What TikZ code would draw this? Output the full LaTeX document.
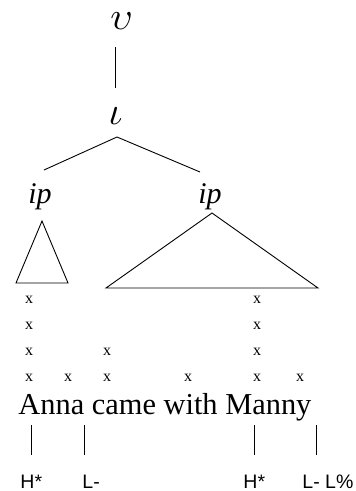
\documentclass[tikz,border=0pt]{standalone}
\usepackage{fontspec}
\setmainfont{Liberation Serif}
\newfontfamily\sansf{Liberation Sans}
\begin{document}
\begin{tikzpicture}[x=1pt,y=-1pt,line width=0.9pt,
  greek/.style={inner sep=0pt,scale=3.9},
  lab/.style={inner sep=0pt,anchor=base,font=\fontsize{30}{30}\selectfont\itshape},
  xm/.style={inner sep=0pt,font=\fontsize{16}{16}\selectfont},
  sent/.style={inner sep=0pt,anchor=base west,font=\fontsize{30.4}{30.4}\selectfont},
  tone/.style={inner sep=0pt,anchor=base west,font=\sansf\fontsize{19.5}{19.5}\selectfont}]
\useasboundingbox (0,0) rectangle (356,491);
% top
\node[greek] (U) at (121.5,21.5) {$\upsilon$};
\node[greek] (I) at (115.5,116.5) {$\iota$};
\coordinate (u1) at (115,47);
\coordinate (u2) at (115,88);
\draw (u1) -- (u2);
% branch
\coordinate (apex) at (117,137);
\coordinate (bl) at (44,170);
\coordinate (br) at (200,172);
\draw (bl) -- (apex) -- (br);
% ip labels
\node[lab] (ipL) at (40,203) {ip};
\node[lab] (ipR) at (210,203) {ip};
% triangles
\coordinate (ta) at (42,221);
\coordinate (tb) at (16,283);
\coordinate (tc) at (68,283);
\draw (ta) -- (tb) -- (tc) -- cycle;
\coordinate (Ta) at (212,213);
\coordinate (Tb) at (106,288);
\coordinate (Tc) at (318,288);
\draw (Ta) -- (Tb) -- (Tc) -- cycle;
% grid marks
\foreach \y/\r in {300/1,326/2,352/3,378/4}{
  \node[xm] (xa\r) at (29,\y) {x};
  \node[xm] (xe\r) at (257,\y) {x};
}
\node[xm] (xc3) at (107,352) {x};
\node[xm] (xb4) at (68,378) {x};
\node[xm] (xc4) at (107,378) {x};
\node[xm] (xd4) at (188,378) {x};
\node[xm] (xf4) at (300,378) {x};
% sentence
\node[sent] (S) at (18,414) {Anna came with Manny};
% tone ticks
\foreach \n/\x in {1/31,2/84,3/254,4/316}{
  \coordinate (t\n a) at (\x,425);
  \coordinate (t\n b) at (\x,455);
  \draw (t\n a) -- (t\n b);
}
% tones
\node[tone] (H1) at (20,488) {H*};
\node[tone] (L1) at (82,488) {L-};
\node[tone] (H2) at (243,488) {H*};
\node[tone] (L2) at (302,488) {L- L\%};
\end{tikzpicture}
\end{document}
